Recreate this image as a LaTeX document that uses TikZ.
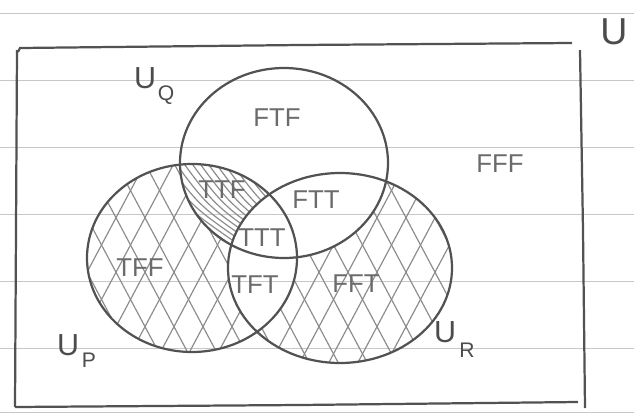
\documentclass[tikz,border=0pt]{standalone}
\usepackage{fontspec}
\setmainfont{Liberation Sans}
\begin{document}
\begin{tikzpicture}[x=0.03cm,y=-0.03cm,
  rule/.style={draw=black!22,line width=0.8pt},
  pen/.style={draw=black!68,line width=1.9pt},
  hatchline/.style={draw=black!45,line width=1pt},
  lbl/.style={text=black!58,font=\fontsize{22}{22}\selectfont,inner sep=0pt},
  setlbl/.style={text=black!70,font=\fontsize{26}{26}\selectfont,inner sep=0pt},
  sub/.style={text=black!70,font=\fontsize{18}{18}\selectfont,inner sep=0pt}]
\useasboundingbox (0,0) rectangle (634,413);
\fill[white] (0,0) rectangle (634,413);
% ruled paper
\foreach \yy in {13,80,147,214,281,348,412}
  \draw[rule] (0,\yy) -- (634,\yy);
% hatching: P only
\begin{scope}[even odd rule]
  \clip (192,258) ellipse [x radius=105, y radius=94];
  \clip (0,0) rectangle (634,413) (284,163) ellipse [x radius=104, y radius=95];
  \clip (0,0) rectangle (634,413) (340,268) ellipse [x radius=112, y radius=95];
  \foreach \k in {-10,...,28} {
    \draw[hatchline] (\k*29,0) -- ++(220,413);
    \draw[hatchline] (\k*29,0) -- ++(-220,413);
  }
\end{scope}
% hatching: R only
\begin{scope}[even odd rule]
  \clip (340,268) ellipse [x radius=112, y radius=95];
  \clip (0,0) rectangle (634,413) (284,163) ellipse [x radius=104, y radius=95];
  \clip (0,0) rectangle (634,413) (192,258) ellipse [x radius=105, y radius=94];
  \foreach \k in {-10,...,28} {
    \draw[hatchline] (\k*29,0) -- ++(220,413);
    \draw[hatchline] (\k*29,0) -- ++(-220,413);
  }
\end{scope}
% single hatching: P and Q, not R
\begin{scope}[even odd rule]
  \clip (192,258) ellipse [x radius=105, y radius=94];
  \clip (284,163) ellipse [x radius=104, y radius=95];
  \clip (0,0) rectangle (634,413) (340,268) ellipse [x radius=112, y radius=95];
  \foreach \k in {-20,...,20} {
    \draw[hatchline] (150+\k*8,150) .. controls (190+\k*8,205) .. (240+\k*8,240);
  }
\end{scope}
% universe rectangle
\draw[pen] (18,52) -- (20,48) -- (300,45) -- (572,43);
\draw[pen] (580,50) -- (583,230) -- (585,408);
\draw[pen] (17,50) -- (16,230) -- (15,407);
\draw[pen] (15,407) -- (300,405) -- (578,402);
% sets
\draw[pen] (284,163) ellipse [x radius=104, y radius=95];
\draw[pen] (192,258) ellipse [x radius=105, y radius=94];
\draw[pen] (340,268) ellipse [x radius=112, y radius=95];
% set names
\node[setlbl] (uq) at (145,78) {U};
\node[sub] (q) at (166,95) {Q};
\node[setlbl] (up) at (68,345) {U};
\node[sub] (p) at (89,360) {P};
\node[setlbl] (ur) at (445,332) {U};
\node[sub] (r) at (467,350) {R};
\node[text=black!70,font=\fontsize{32}{32}\selectfont,inner sep=0pt] (u) at (614,32) {U};
% region labels
\node[lbl] (ftf) at (277,118) {FTF};
\node[lbl] (fff) at (500,164) {FFF};
\node[lbl] (ttf) at (222,190) {TTF};
\node[lbl] (ftt) at (316,200) {FTT};
\node[lbl] (ttt) at (262,238) {TTT};
\node[lbl] (tff) at (140,268) {TFF};
\node[lbl] (tft) at (255,285) {TFT};
\node[lbl] (fft) at (356,284) {FFT};
\end{tikzpicture}
\end{document}
